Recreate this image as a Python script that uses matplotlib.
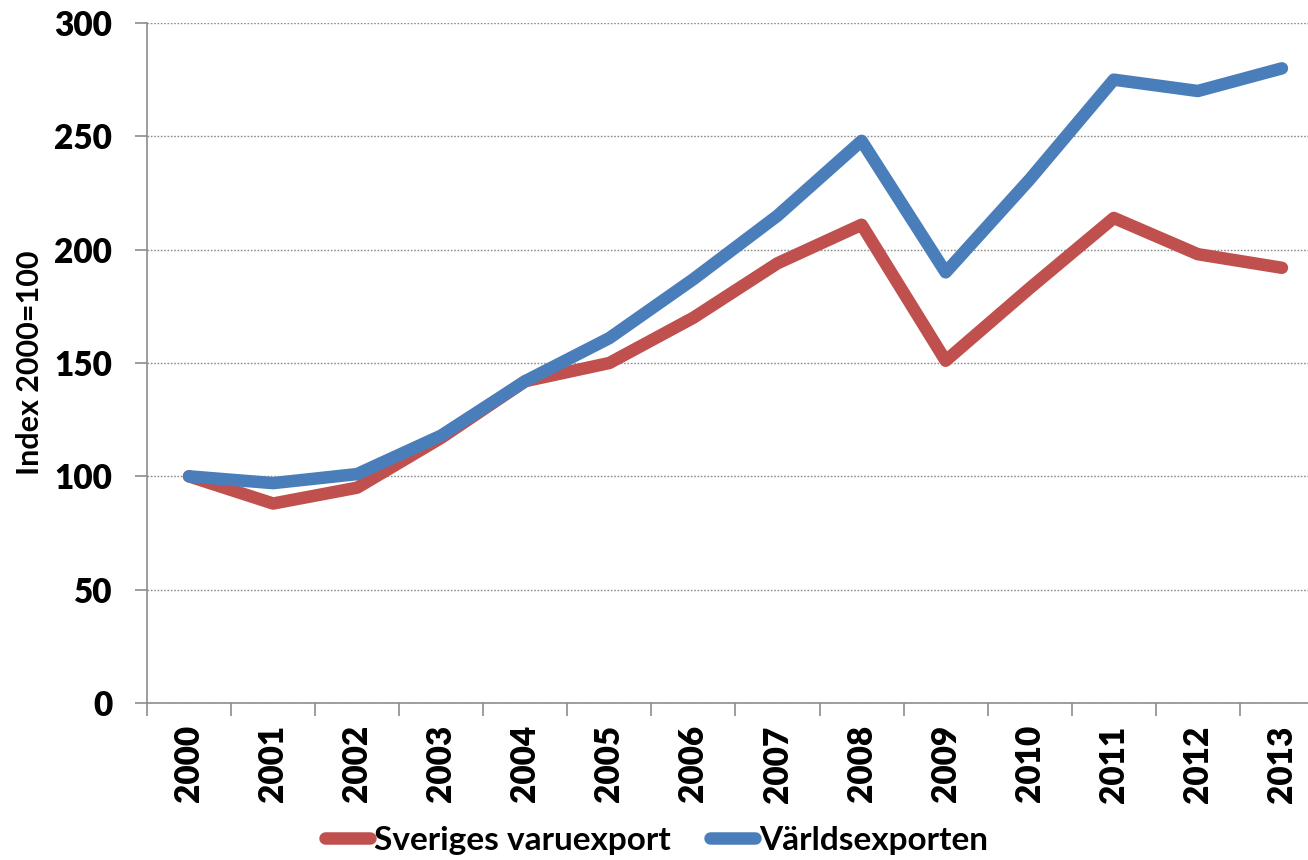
import matplotlib
matplotlib.use("Agg")
import matplotlib.pyplot as plt
from matplotlib.ticker import MultipleLocator, FixedLocator

# data
years = [str(y) for y in range(2000, 2014)]
sverige = [100, 88, 95, 117, 142, 150, 170, 194, 211, 151, 183, 214, 198, 192]
varlden = [100, 97, 101, 118, 142, 161, 187, 215, 248, 190, 231, 275, 270, 280]

RED = '#C0504D'
BLUE = '#4A7EBB'
GREY = '#8c8c8c'

plt.rcParams['font.family'] = ['Lato', 'DejaVu Sans']

W = 'heavy'

fig = plt.figure(figsize=(13.08, 8.6), dpi=100)
ax = fig.add_axes([147 / 1308, 157 / 860, 1161 / 1308, 680 / 860])

x = list(range(len(years)))
ax.plot(x, sverige, color=RED, lw=9, solid_capstyle='round',
        solid_joinstyle='round', label='Sveriges varuexport', zorder=3)
ax.plot(x, varlden, color=BLUE, lw=9, solid_capstyle='round',
        solid_joinstyle='round', label='Världsexporten', zorder=4)

ax.set_ylim(0, 300)
ax.set_xlim(-0.5, 13.31)
ax.yaxis.set_major_locator(MultipleLocator(50))
ax.set_xticks(x)
ax.set_xticklabels(years, rotation=90, fontsize=24, fontweight=W)
ax.xaxis.set_minor_locator(FixedLocator([i - 0.5 for i in range(15)]))
ax.tick_params(axis='x', which='major', length=0, pad=16)
ax.tick_params(axis='x', which='minor', length=9, width=1.2, color=GREY, direction='out')
ax.tick_params(axis='y', length=9, width=1.2, color=GREY, pad=16, labelsize=24)
for lab in ax.get_yticklabels():
    lab.set_fontweight(W)

ax.grid(axis='y', linestyle=(0, (1.2, 1.2)), color=GREY, lw=1.0)
ax.set_axisbelow(True)
for s in ['top', 'right']:
    ax.spines[s].set_visible(False)
for s in ['left', 'bottom']:
    ax.spines[s].set_color(GREY)
    ax.spines[s].set_linewidth(1.2)

ax.set_ylabel('Index 2000=100', fontsize=22, fontweight='bold')
ax.yaxis.set_label_coords(-0.089, 0.5)

fig.legend(loc='center', bbox_to_anchor=(0.502, 0.023), ncol=2, frameon=False,
           prop={'size': 24, 'weight': 'bold'}, handlelength=1.35,
           handletextpad=0.1, columnspacing=1.2)

fig.savefig('out.png', dpi=100, facecolor='white')
